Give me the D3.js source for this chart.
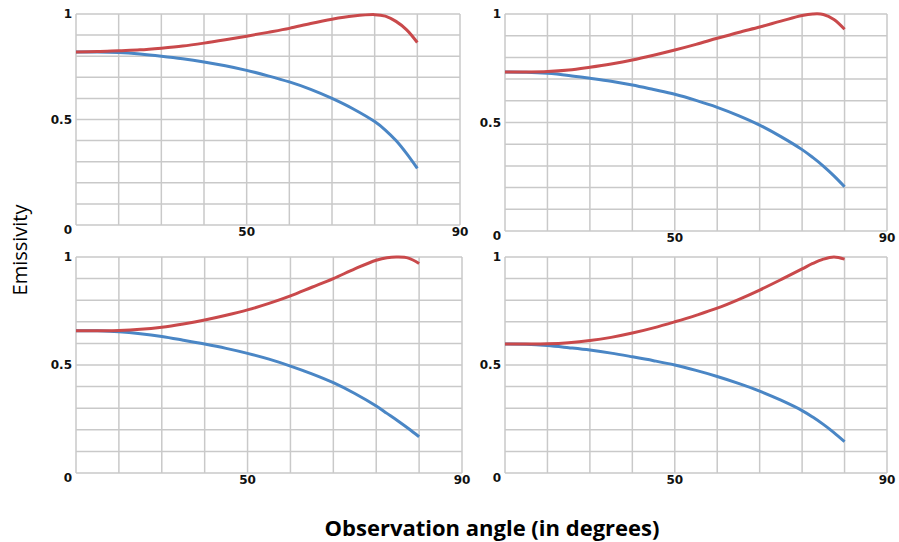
<!DOCTYPE html>
<html lang="en">
    <head>
        <meta charset="utf-8">
        <title>Emissivity vs observation angle</title>
        <script src="https://d3js.org/d3.v7.min.js"></script>
        <style type="text/css">
          body
          {
              margin: 0;
              background: #ffffff;
          }
          .tick-label
          {
              font-family: "DejaVu Sans", sans-serif;
              font-weight: bold;
              font-size: 12px;
              fill: #111111;
          }
        </style>
    </head>
    <body>
        <script type="text/javascript">
            // observation angles (grid units of the original chart)
            var angles = [0, 5, 10, 15, 20, 25, 30, 35, 40, 45, 50, 55, 60, 65, 70, 72.5, 75, 77.5, 80];

            // red = upper curve, blue = lower curve, one pair per panel
            var redTL  = [0.82, 0.822, 0.826, 0.83, 0.838, 0.848, 0.862, 0.878, 0.895, 0.913, 0.932, 0.955, 0.975, 0.99, 0.997, 0.99, 0.965, 0.925, 0.865];
            var blueTL = [0.82, 0.82, 0.817, 0.81, 0.80, 0.788, 0.773, 0.755, 0.733, 0.707, 0.678, 0.643, 0.60, 0.55, 0.49, 0.45, 0.40, 0.338, 0.268];
            var redTR  = [0.733, 0.733, 0.735, 0.742, 0.755, 0.77, 0.788, 0.81, 0.834, 0.86, 0.888, 0.915, 0.94, 0.967, 0.993, 1.0, 0.998, 0.975, 0.93];
            var blueTR = [0.733, 0.732, 0.727, 0.717, 0.704, 0.69, 0.673, 0.652, 0.63, 0.602, 0.57, 0.532, 0.488, 0.435, 0.375, 0.339, 0.299, 0.254, 0.204];
            var redBL  = [0.659, 0.659, 0.66, 0.665, 0.675, 0.69, 0.708, 0.73, 0.755, 0.785, 0.82, 0.86, 0.90, 0.945, 0.985, 0.997, 1.0, 0.995, 0.97];
            var blueBL = [0.659, 0.658, 0.654, 0.645, 0.632, 0.615, 0.597, 0.577, 0.554, 0.527, 0.495, 0.459, 0.418, 0.368, 0.31, 0.276, 0.242, 0.206, 0.168];
            var redBR  = [0.597, 0.597, 0.598, 0.603, 0.613, 0.628, 0.648, 0.672, 0.70, 0.73, 0.763, 0.803, 0.847, 0.895, 0.945, 0.97, 0.99, 1.0, 0.99];
            var blueBR = [0.597, 0.596, 0.59, 0.58, 0.569, 0.555, 0.538, 0.52, 0.50, 0.475, 0.447, 0.415, 0.379, 0.337, 0.289, 0.259, 0.225, 0.187, 0.145];

            // grid and tick labels
            var xGrid = [0, 10, 20, 30, 40, 50, 60, 70, 80, 90];
            var yGrid = [0, 0.1, 0.2, 0.3, 0.4, 0.5, 0.6, 0.7, 0.8, 0.9, 1];
            var xTickAt = [40, 90];
            var xTickLabels = ["50", "90"];
            var yTickAt = [0, 0.5, 1];
            var yTickLabels = ["0", "0.5", "1"];

            var w = 899, h = 542;

            // panel boxes in pixels
            var panels = [
              {left: 76,  top: 14,  right: 460, bottom: 225, red: redTL, blue: blueTL},
              {left: 505, top: 14,  right: 887, bottom: 231, red: redTR, blue: blueTR},
              {left: 76,  top: 257, right: 462, bottom: 473, red: redBL, blue: blueBL},
              {left: 505, top: 257, right: 887, bottom: 473, red: redBR, blue: blueBR}
            ];

            var svg = d3.select("body")
                        .append("svg")
                        .attr("width", w)
                        .attr("height", h);

            panels.forEach(function(p)
            {
              var xScale = d3.scaleLinear().domain([0, 90]).range([p.left, p.right]);
              var yScale = d3.scaleLinear().domain([0, 1]).range([p.bottom, p.top]);
              var g = svg.append("g");

              // gridlines
              g.selectAll("line.vgrid")
               .data(xGrid)
               .enter()
               .append("line")
               .attr("x1", function(d) { return xScale(d); })
               .attr("x2", function(d) { return xScale(d); })
               .attr("y1", p.top)
               .attr("y2", p.bottom)
               .style("stroke", "#c9c9c9")
               .style("stroke-width", 1.5);

              g.selectAll("line.hgrid")
               .data(yGrid)
               .enter()
               .append("line")
               .attr("x1", p.left)
               .attr("x2", p.right)
               .attr("y1", function(d) { return yScale(d); })
               .attr("y2", function(d) { return yScale(d); })
               .style("stroke", "#c9c9c9")
               .style("stroke-width", 1.5);

              // y tick labels
              g.selectAll("text.ylab")
               .data(yTickAt)
               .enter()
               .append("text")
               .attr("class", "tick-label")
               .attr("text-anchor", "end")
               .attr("x", p.left - 4)
               .attr("y", function(d) { return yScale(d) + (d === 0 ? 9 : 4); })
               .text(function(d, i) { return yTickLabels[i]; });

              // x tick labels
              g.selectAll("text.xlab")
               .data(xTickAt)
               .enter()
               .append("text")
               .attr("class", "tick-label")
               .attr("text-anchor", "middle")
               .attr("x", function(d) { return xScale(d); })
               .attr("y", p.bottom + 11)
               .text(function(d, i) { return xTickLabels[i]; });

              // curves
              var line = d3.line()
                           .x(function(d, i) { return xScale(angles[i]); })
                           .y(function(d) { return yScale(d); })
                           .curve(d3.curveCatmullRom.alpha(0.5));

              g.append("path")
               .datum(p.blue)
               .attr("d", line)
               .style("fill", "none")
               .style("stroke", "#4a86c5")
               .style("stroke-width", 3);

              g.append("path")
               .datum(p.red)
               .attr("d", line)
               .style("fill", "none")
               .style("stroke", "#c9494b")
               .style("stroke-width", 3);
            });

            // axis titles
            svg.append("text")
               .attr("transform", "translate(27, 250) rotate(-90)")
               .attr("text-anchor", "middle")
               .style("font-family", "'Open Sans', sans-serif")
               .style("font-size", "20px")
               .text("Emissivity");

            svg.append("text")
               .attr("x", 492)
               .attr("y", 536)
               .attr("text-anchor", "middle")
               .style("font-family", "'Open Sans', sans-serif")
               .style("font-weight", "bold")
               .style("font-size", "22px")
               .text("Observation angle (in degrees)");
        </script>
    </body>
</html>
